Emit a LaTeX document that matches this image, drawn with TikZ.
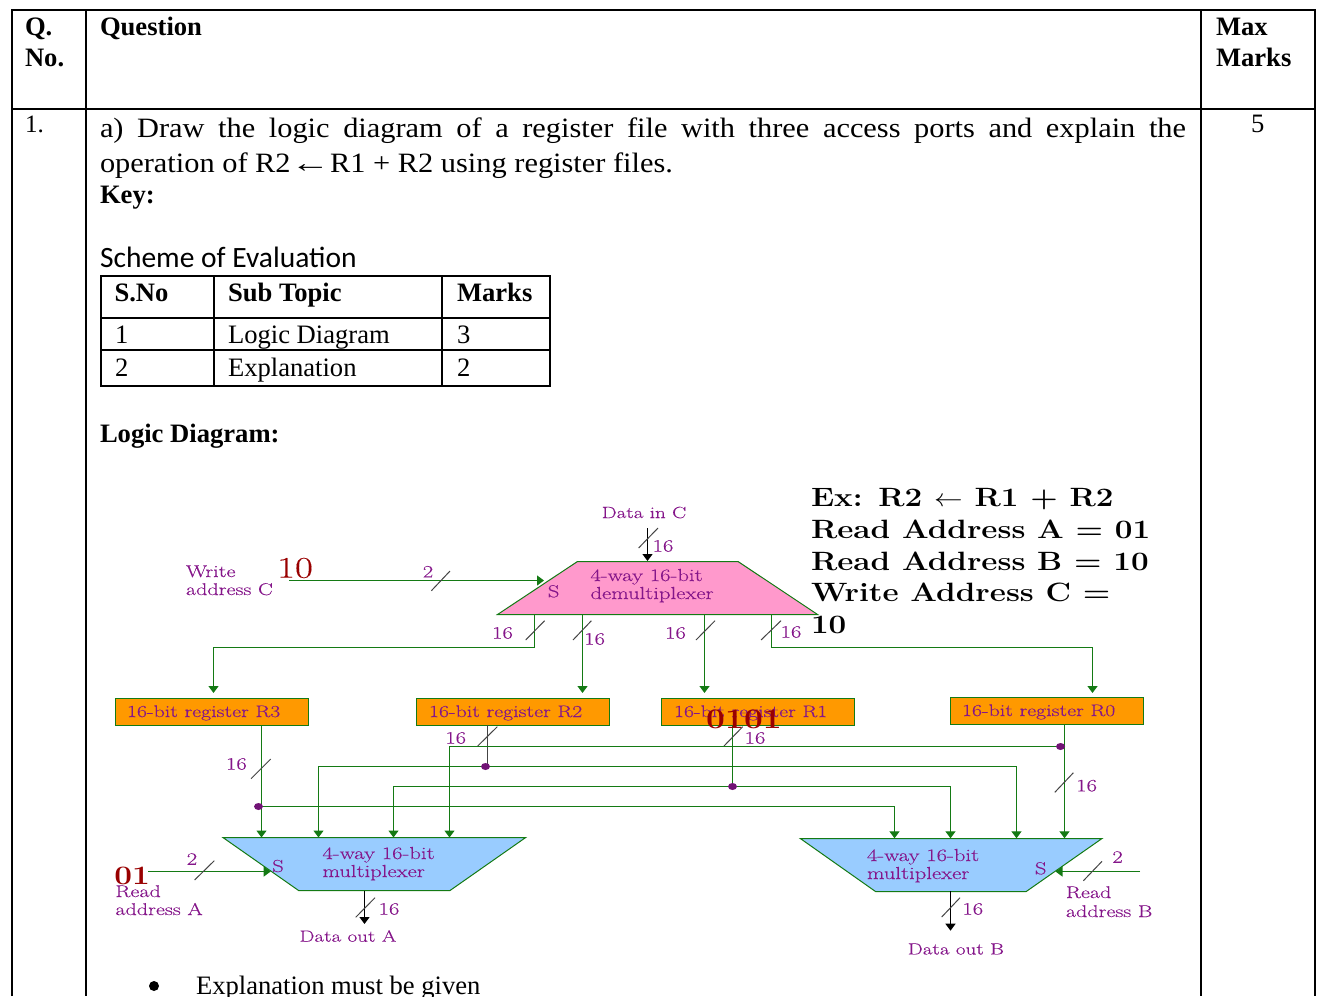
\documentclass[tikz,border=0pt]{standalone}
\usepackage{fontspec}
\usetikzlibrary{arrows.meta,shapes.geometric}
\setmainfont{Liberation Serif}
\newfontfamily\wid[FakeStretch=1.3,FakeBold=0.2]{Latin Modern Roman}
\newfontfamily\widb[FakeStretch=1.185]{Latin Modern Roman}
\newfontfamily\carl{Carlito}
\newfontfamily\cam[FakeStretch=1.085]{Liberation Serif}
\newcommand{\fs}[1]{\fontsize{#1}{#1}\selectfont}
\definecolor{wire}{HTML}{147A14}
\definecolor{lab}{HTML}{85168A}
\definecolor{pinkf}{HTML}{FF99CC}
\definecolor{bluef}{HTML}{99CCFF}
\definecolor{orangef}{HTML}{FF9900}
\definecolor{redt}{HTML}{990000}
\definecolor{slashc}{HTML}{444444}
\tikzset{
  x=1pt,y=-1pt,
  tx/.style={inner sep=0pt,outer sep=0pt,anchor=base west,align=left},
  body/.style={tx,font=\fs{26.6}},
  bodyb/.style={tx,font=\fs{26.6}\bfseries},
  lbl/.style={inner sep=0pt,outer sep=0pt,text=lab,font=\wid\fs{17.4}},
  lbld/.style={lbl,font=\wid\fs{16.2}},
  lblr/.style={lbl,anchor=base west,font=\wid\fs{16.8}},
  lbla/.style={lbl,anchor=base west,font=\wid\fs{17}},
  lblw/.style={lbl,anchor=base west},
  rule/.style={draw=black,line width=2pt},
  reg/.style={draw=wire,fill=orangef,line width=1pt,minimum width=193pt,minimum height=27pt,inner sep=0pt,outer sep=0pt},
  wirel/.style={draw=wire,line width=1.3pt},
  arr/.style={wirel,-{Triangle[length=7pt,width=10pt]}},
  arrk/.style={draw=black,line width=1.3pt,-{Triangle[length=7pt,width=10pt]}},
  slash/.style={draw=slashc,line width=1pt},
  mux/.style={draw=wire,line width=1pt},
  dot/.style={ellipse,inner sep=0pt,minimum width=9pt,minimum height=7pt,fill=lab!85!black},
  big/.style={inner sep=0pt,outer sep=0pt,text=redt},
  ex/.style={tx,font=\widb\fs{26.5}\bfseries}
}
\begin{document}
\begin{tikzpicture}
\useasboundingbox (0,0) rectangle (1319,996);
\clip (0,0) rectangle (1319,996);
% outer table
\coordinate (tl) at (11.5,10); \coordinate (bl) at (11.5,996);
\coordinate (c1t) at (86,10); \coordinate (c1b) at (86,996);
\coordinate (c2t) at (1201,10); \coordinate (c2b) at (1201,996);
\coordinate (tr) at (1315,10); \coordinate (br) at (1315,996);
\coordinate (rl) at (11.5,109); \coordinate (rr) at (1315,109);
\draw[rule] (bl) -- (tl) -- (tr) -- (br);
\draw[rule] (c1t) -- (c1b);
\draw[rule] (c2t) -- (c2b);
\draw[rule] (rl) -- (rr);
\node[bodyb] (qa) at (25,35) {Q.};
\node[bodyb] (qb) at (25,66) {No.};
\node[bodyb] (qh) at (100,35) {Question};
\node[bodyb] (ma) at (1216,35) {Max};
\node[bodyb] (mb) at (1216,66) {Marks};
\node[tx,font=\fs{25}] (n1) at (25,132) {1.};
\node[tx,font=\fs{26.6}] (n5) at (1251,132) {5};
\node[tx,font=\cam\fs{28}] (qt1) at (100,137) {\makebox[1086pt][s]{a) Draw the logic diagram of a register file with three access ports and explain the}};
\node[tx,font=\cam\fs{28}] (qt2) at (100,172) {operation of R2\scalebox{1.3}[1]{←}R1 + R2 using register files.};
\node[bodyb] (key) at (100,203) {Key:};
\node[tx,font=\carl\fs{29.5}] (sch) at (100,267) {Scheme of Evaluation};
% inner table
\coordinate (a1) at (101,276); \coordinate (a2) at (550,276);
\coordinate (a3) at (550,386); \coordinate (a4) at (101,386);
\coordinate (v1t) at (214,276); \coordinate (v1b) at (214,386);
\coordinate (v2t) at (442,276); \coordinate (v2b) at (442,386);
\coordinate (h1l) at (101,318); \coordinate (h1r) at (550,318);
\coordinate (h2l) at (101,350); \coordinate (h2r) at (550,350);
\draw[rule] (a1) -- (a2) -- (a3) -- (a4) -- cycle;
\draw[rule] (v1t) -- (v1b);
\draw[rule] (v2t) -- (v2b);
\draw[rule] (h1l) -- (h1r);
\draw[rule] (h2l) -- (h2r);
\node[bodyb] (t11) at (114.5,301) {S.No};
\node[bodyb] (t12) at (228,301) {Sub Topic};
\node[bodyb] (t13) at (457,301) {Marks};
\node[body] (t21) at (115,343) {1};
\node[body] (t22) at (228,343) {Logic Diagram};
\node[body] (t23) at (457,343) {3};
\node[body] (t31) at (115,376) {2};
\node[body] (t32) at (228,376) {Explanation};
\node[body] (t33) at (457,376) {2};
\node[bodyb] (ld) at (100,442) {Logic Diagram:};
\node[circle,fill=black,inner sep=0pt,minimum size=10pt] (bu) at (154,986) {};
\node[body] (expl) at (196,994) {Explanation must be given};
% demux and muxes
\coordinate (dTL) at (577.5,561.5); \coordinate (dTR) at (738,561.5);
\coordinate (dBR) at (817.6,614.5); \coordinate (dBL) at (497.5,614.5);
\filldraw[mux,fill=pinkf] (dTL) -- (dTR) -- (dBR) -- (dBL) -- cycle;
\coordinate (aTL) at (222.9,837.5); \coordinate (aTR) at (525.7,837.5);
\coordinate (aBR) at (450,890.5); \coordinate (aBL) at (298.6,890.5);
\filldraw[mux,fill=bluef] (aTL) -- (aTR) -- (aBR) -- (aBL) -- cycle;
\coordinate (bTL) at (800.3,838.5); \coordinate (bTR) at (1102,838.5);
\coordinate (bBR) at (1026.2,891.5); \coordinate (bBL) at (875.5,891.5);
\filldraw[mux,fill=bluef] (bTL) -- (bTR) -- (bBR) -- (bBL) -- cycle;
% registers
\node[reg] (R3) at (212,712) {};
\node[reg] (R2) at (513,712) {};
\node[reg] (R1) at (758,712) {};
\node[reg] (R0) at (1047,711) {};
\node[lblr] (R3t) at (127,717) {16-bit register R3};
\node[lblr] (R2t) at (429,717) {16-bit register R2};
\node[lblr] (R1t) at (674,717) {16-bit register R1};
\node[lblr] (R0t) at (962,716) {16-bit register R0};
% demux connectors
\coordinate (dinS) at (647.5,528); \coordinate (dinE) at (647.5,561);
\draw[arrk] (dinS) -- (dinE);
\coordinate (wS) at (289,580.5); \coordinate (wE) at (544,580.5);
\draw[arr] (wS) -- (wE);
\coordinate (o3a) at (534.5,614); \coordinate (o3b) at (534.5,647.5); \coordinate (o3c) at (213.5,647.5); \coordinate (o3d) at (213.5,693);
\draw[arr] (o3a) -- (o3b) -- (o3c) -- (o3d);
\coordinate (o2a) at (582.5,614); \coordinate (o2d) at (582.5,693);
\draw[arr] (o2a) -- (o2d);
\coordinate (o1a) at (704.5,614); \coordinate (o1d) at (704.5,693);
\draw[arr] (o1a) -- (o1d);
\coordinate (o0a) at (771.5,614); \coordinate (o0b) at (771.5,647.5); \coordinate (o0c) at (1092.5,647.5); \coordinate (o0d) at (1092.5,693);
\draw[arr] (o0a) -- (o0b) -- (o0c) -- (o0d);
% register R3 bus
\coordinate (r3o) at (261.5,725); \coordinate (r3e) at (261.5,837.5);
\draw[arr] (r3o) -- (r3e);
\coordinate (j3) at (258.5,806.5); \coordinate (j3b) at (894.5,806.5); \coordinate (j3e) at (894.5,838.3);
\draw[arr] (j3) -- (j3b) -- (j3e);
% register R2 bus
\coordinate (r2o) at (487.5,725); \coordinate (r2j) at (487.5,766.5); \coordinate (j2) at (485.5,766.5);
\draw[draw=slashc,line width=1.3pt] (r2o) -- (r2j);
\coordinate (j2a) at (318.5,766.5); \coordinate (j2ae) at (318.5,837.5);
\coordinate (j2b) at (1016.5,766.5); \coordinate (j2be) at (1016.5,838.3);
\draw[arr] (j2) -- (j2a) -- (j2ae);
\draw[arr] (j2) -- (j2b) -- (j2be);
% register R1 bus
\coordinate (r1o) at (732.5,725); \coordinate (j1) at (732.5,786.5);
\draw[wirel] (r1o) -- (j1);
\coordinate (j1a) at (393.5,786.5); \coordinate (j1ae) at (393.5,837.5);
\coordinate (j1b) at (950.5,786.5); \coordinate (j1be) at (950.5,838.3);
\draw[arr] (j1) -- (j1a) -- (j1ae);
\draw[arr] (j1) -- (j1b) -- (j1be);
% register R0 bus
\coordinate (r0o) at (1064.5,724); \coordinate (r0e) at (1064.5,838.3);
\draw[arr] (r0o) -- (r0e);
\coordinate (j0) at (1060.5,746.5); \coordinate (j0a) at (449.5,746.5); \coordinate (j0ae) at (449.5,837.5);
\draw[arr] (j0) -- (j0a) -- (j0ae);
% selects and outputs
\coordinate (sa) at (148,871.5); \coordinate (sae) at (270.7,871.5);
\draw[arr] (sa) -- (sae);
\coordinate (sb) at (1140,871.5); \coordinate (sbe) at (1055.5,871.5);
\draw[arr] (sb) -- (sbe);
\coordinate (oa) at (364.5,890.5); \coordinate (oae) at (364.5,924);
\draw[arrk] (oa) -- (oae);
\coordinate (ob) at (950.5,891.3); \coordinate (obe) at (950.5,930.7);
\draw[arrk] (ob) -- (obe);
% junction dots
\node[dot] (dj3) at (j3) {};
\node[dot] (dj2) at (j2) {};
\node[dot] (dj1) at (j1) {};
\node[dot] (dj0) at (j0) {};
% slashes
\draw[slash] (638.6,548) -- (658,528);
\draw[slash] (431.4,590.7) -- (450,571);
\draw[slash] (525.7,640) -- (544.6,620.7);
\draw[slash] (573,640) -- (591.4,620.7);
\draw[slash] (696,640) -- (715,620.7);
\draw[slash] (761,640) -- (781,620.7);
\draw[slash] (251,778.7) -- (270.7,759);
\draw[slash] (477.7,746) -- (497.3,726.7);
\draw[slash] (724,746) -- (742.7,726.7);
\draw[slash] (1054.8,792.3) -- (1073.4,772.7);
\draw[slash] (194.6,880) -- (214.3,860.7);
\draw[slash] (355.7,917.3) -- (375,897.7);
\draw[slash] (941.7,917) -- (960,897.7);
\draw[slash] (1083.4,880.7) -- (1102,861.3);
% labels
\node[lbld] (l1) at (644,512.5) {Data in C};
\node[lbl] (l2) at (663,546) {16};
\node[lbl] (l3) at (428,571.7) {2};
\node[lbla] (l4) at (186,577) {Write};
\node[lbla] (l5) at (186,595) {address C};
\node[lblw] (l6) at (590.5,581) {4-way 16-bit};
\node[lblw] (l7) at (590.5,599) {demultiplexer};
\node[lbl] (l8) at (553.6,591.3) {S};
\node[lbl] (l9) at (502.5,633) {16};
\node[lbl] (l10) at (594.6,639) {16};
\node[lbl] (l11) at (675.5,633) {16};
\node[lbl] (l12) at (791,632) {16};
\node[lbl] (l13) at (236.4,764) {16};
\node[lbl] (l14) at (455.7,738) {16};
\node[lbl] (l15) at (755,738) {16};
\node[lbl] (l16) at (1086.6,785.7) {16};
\node[lbl] (l17) at (192,859) {2};
\node[lbl] (l18) at (278,866) {S};
\node[lblw] (l19) at (322.5,859) {4-way 16-bit};
\node[lblw] (l20) at (322.5,877) {multiplexer};
\node[lbla] (l21) at (115.4,897) {Read};
\node[lbla] (l22) at (115.4,915) {address A};
\node[lbl] (l23) at (389,909) {16};
\node[lbld] (l24) at (348,936) {Data out A};
\node[lblw] (l25) at (867,861) {4-way 16-bit};
\node[lblw] (l26) at (867,879) {multiplexer};
\node[lbl] (l27) at (1040.7,868.3) {S};
\node[lbl] (l28) at (1117.6,857) {2};
\node[lbla] (l29) at (1065.9,898) {Read};
\node[lbla] (l30) at (1065.9,917) {address B};
\node[lbl] (l31) at (972.8,909) {16};
\node[lbld] (l32) at (955.9,949) {Data out B};
% red values
\node[big,font=\wid\fs{30}] (v10) at (295,568) {10};
\node[big,font=\widb\fs{28.3}\bfseries] (v0101) at (744,719) {0101};
\node[big,font=\widb\fs{26.6}\bfseries] (v01) at (132,876) {01};
% example
\node[ex] (e1) at (811,506) {Ex: R2 \scalebox{1.15}[1]{$\leftarrow$} R1 + R2};
\node[ex] (e2) at (811,538) {Read Address A = 01};
\node[ex] (e3) at (811,570) {Read Address B = 10};
\node[ex] (e4) at (811,601) {Write Address C =};
\node[ex] (e5) at (811,633) {10};
\end{tikzpicture}
\end{document}
